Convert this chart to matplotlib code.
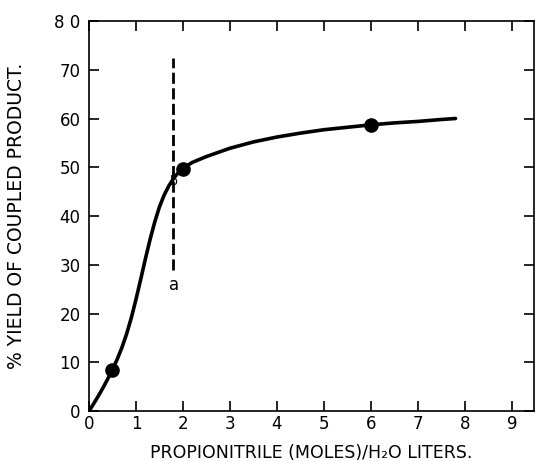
import matplotlib
matplotlib.use('Agg')
import matplotlib.pyplot as plt

# ── Data ───────────────────────────────────────────────────────
curve_x = [0, 0.1, 0.2, 0.3, 0.4, 0.5, 0.6, 0.7, 0.8, 0.9, 1.0, 1.1, 1.2, 1.3,
           1.4, 1.5, 1.6, 1.7, 1.8, 1.9, 2.0, 2.2, 2.5, 3.0, 3.5, 4.0, 4.5,
           5.0, 5.5, 6.0, 6.5, 7.0, 7.5, 7.8]
curve_y = [0, 1.5, 3.1, 4.8, 6.6, 8.5, 10.6, 13.0, 15.8, 19.1, 22.9, 27.0,
           31.2, 35.2, 38.8, 41.9, 44.3, 46.2, 47.7, 48.9, 49.8, 51.0, 52.2,
           53.9, 55.2, 56.2, 57.0, 57.7, 58.2, 58.7, 59.1, 59.4, 59.8, 60.0]
pts_x = [0.5, 2.0, 6.0]
pts_y = [8.4, 49.6, 58.7]
dash_x = 1.78
dash_y = [29, 72.4]

xticks = list(range(10))
yticks = list(range(0, 90, 10))
ytick_labels = ['0', '10', '20', '30', '40', '50', '60', '70', '8 0']

fig = plt.figure(figsize=(5.36, 4.61), dpi=100, facecolor='white')
ax = fig.add_axes([89/536, 50/461, 445/536, 390/461])

ax.plot(curve_x, curve_y, color='black', lw=2.6, solid_capstyle='round',
        solid_joinstyle='round')
ax.plot(pts_x, pts_y, 'o', color='black', ms=9.5)
ax.plot([dash_x, dash_x], dash_y, color='black', lw=2.0, linestyle=(0, (4, 1.6)))
ax.text(dash_x + 0.02, 25.8, 'a', fontsize=12, ha='center', va='center')
ax.text(dash_x + 0.02, 47.0, 'b', fontsize=9, ha='center', va='center')

ax.set_xlim(0, 9.47)
ax.set_ylim(0, 80)
ax.set_xticks(xticks)
ax.set_yticks(yticks)
ax.set_yticklabels(ytick_labels)
ax.tick_params(direction='in', length=7, width=1.2, top=True, right=True,
               labelsize=12)
ax.tick_params(axis='x', pad=3)
ax.tick_params(axis='y', pad=6)
for sp in ax.spines.values():
    sp.set_linewidth(1.2)

ax.set_xlabel('PROPIONITRILE (MOLES)/H₂O LITERS.', fontsize=12.5)
ax.xaxis.set_label_coords(0.5, -0.085)
ax.set_ylabel('% YIELD OF COUPLED PRODUCT.', fontsize=13.5)
ax.yaxis.set_label_coords(-0.142, 0.5)

fig.savefig('out.png', dpi=100, facecolor='white')
